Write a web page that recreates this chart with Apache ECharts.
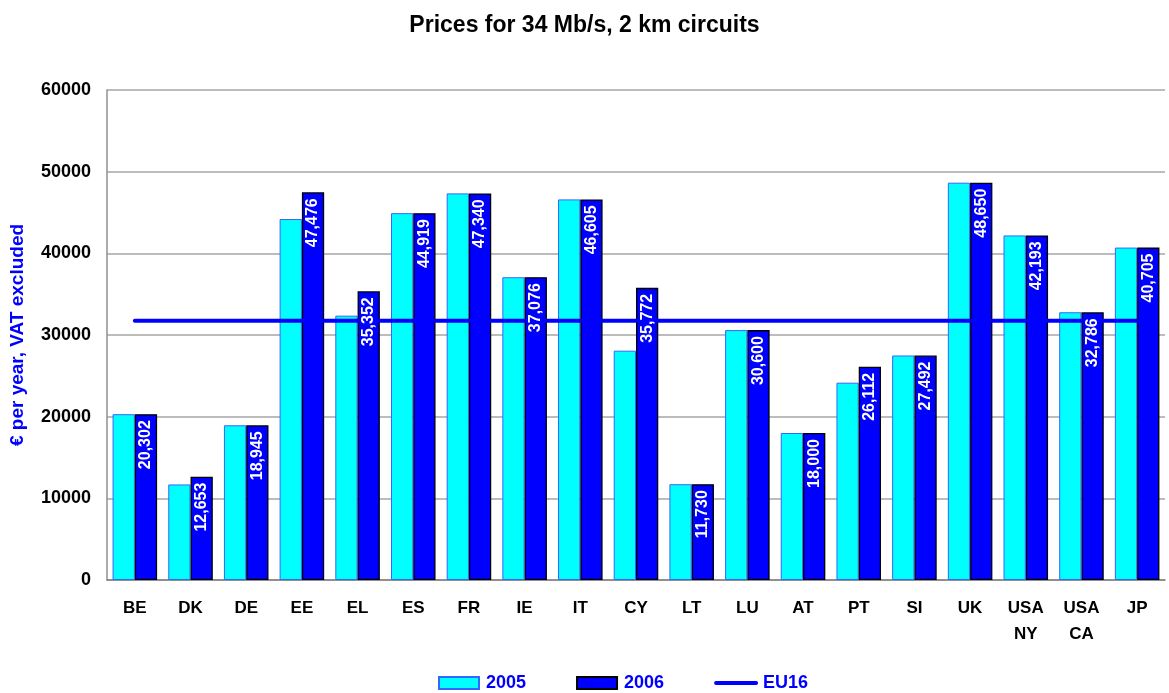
<!DOCTYPE html>
<html><head><meta charset="utf-8">
<script src="https://cdn.jsdelivr.net/npm/echarts@6/dist/echarts.min.js"></script>
<style>html,body{margin:0;padding:0;background:#fff}#c{width:1169px;height:693px}</style>
</head><body><div id="c"></div>
<script>
const categories = ['BE','DK','DE','EE','EL','ES','FR','IE','IT','CY','LT','LU','AT','PT','SI','UK','USA\nNY','USA\nCA','JP'];
const values2005 = [20302,11700,18945,44200,32370,44919,47340,37076,46605,28080,11730,30600,18000,24160,27492,48650,42193,32786,40705];
const values2006 = [20302,12653,18945,47476,35352,44919,47340,37076,46605,35772,11730,30600,18000,26112,27492,48650,42193,32786,40705];
const eu16Value = 31750;
const eu16 = categories.map(() => eu16Value);
const yTicks = [0,10000,20000,30000,40000,50000,60000];

const font = 'Arial, "Liberation Sans", sans-serif';
const chart = echarts.init(document.getElementById('c'), null, {renderer:'canvas'});
const barCommon = {barGap:'0%', barCategoryGap:'20%'};
chart.setOption({
  animation:false,
  title:{text:'Prices for 34 Mb/s, 2 km circuits', left:'center', top:9,
    textStyle:{fontFamily:font, fontSize:23, fontWeight:'bold', color:'#000'}},
  grid:{left:107, right:4, top:90, bottom:113},
  legend:{top:669, left:433, itemWidth:40, itemHeight:12, itemGap:50,
    textStyle:{fontFamily:font, fontSize:18, fontWeight:'bold', color:'#0000FF', padding:[0,0,0,2]},
    data:[{name:'2005', icon:'rect'},{name:'2006', icon:'rect'},
      {name:'EU16', itemStyle:{opacity:0}, lineStyle:{width:4, cap:'round', color:'#0000FF'}}]},
  xAxis:[{type:'category', data:categories, boundaryGap:true,
    axisLine:{lineStyle:{color:'#808080', width:1.5}},
    axisTick:{show:false},
    axisLabel:{fontFamily:font, fontSize:17, fontWeight:'bold', color:'#000', margin:15, lineHeight:26, interval:0}},
    {type:'category', data:categories, show:false, boundaryGap:true}],
  yAxis:{type:'value', min:yTicks[0], max:yTicks[yTicks.length-1], interval:10000,
    name:'€ per year, VAT excluded', nameLocation:'middle', nameGap:80, nameRotate:90,
    nameTextStyle:{fontFamily:font, fontSize:19, fontWeight:'bold', color:'#0000FF'},
    axisLine:{show:true, lineStyle:{color:'#909090', width:1.5}},
    axisTick:{show:false},
    splitLine:{lineStyle:{color:'#A6A6A6', width:1.5}},
    axisLabel:{fontFamily:font, fontSize:18, fontWeight:'bold', color:'#000', margin:16, formatter:v=>String(v)}},
  series:[
    Object.assign({name:'2005', type:'bar', data:values2005,
      itemStyle:{color:'#00FFFF', borderColor:'#3366FF', borderWidth:1}}, barCommon),
    Object.assign({name:'2006', type:'bar', data:values2006,
      itemStyle:{color:'#0000FF', borderColor:'#000', borderWidth:1.3}}, barCommon),
    {name:'EU16', type:'line', data:eu16, symbol:'none', z:5,
      lineStyle:{color:'#0000FF', width:4, cap:'round'}, itemStyle:{color:'#0000FF'}},
    Object.assign({name:'lbl2005', type:'bar', xAxisIndex:1, data:values2005, z:10, silent:true,
      itemStyle:{color:'rgba(0,0,0,0)'}}, barCommon),
    Object.assign({name:'lbl2006', type:'bar', xAxisIndex:1, data:values2006, z:10, silent:true,
      itemStyle:{color:'rgba(0,0,0,0)'},
      label:{show:true, position:'insideTop', rotate:90, align:'right', verticalAlign:'middle', distance:6,
        fontFamily:font, fontSize:16, fontWeight:'bold', color:'#fff',
        formatter:p=>p.value.toLocaleString('en-US')}}, barCommon)
  ]
});
</script></body></html>
